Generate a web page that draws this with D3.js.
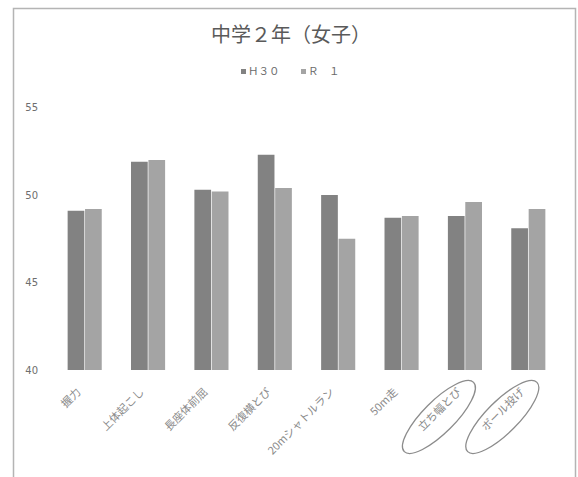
<!DOCTYPE html>
<html>
<head>
<meta charset="utf-8">
<script src="https://cdn.jsdelivr.net/npm/d3@7"></script>
<style>
  html, body { margin: 0; padding: 0; background: #fff; }
  svg { display: block; }
</style>
</head>
<body>
<svg id="chart" width="578" height="477"></svg>
<script>
// Test events
const categories = ["握力", "上体起こし", "長座体前屈", "反復横とび", "20mシャトルラン", "50m走", "立ち幅とび", "ボール投げ"];
// Mean T-scores per event
const seriesH30 = [49.1, 51.9, 50.3, 52.3, 50.0, 48.7, 48.8, 48.1];
const seriesR1  = [49.2, 52.0, 50.2, 50.4, 47.5, 48.8, 49.6, 49.2];
const seriesNames = ["Ｈ３０", "Ｒ　１"];
const yTicks = [40, 45, 50, 55];
// Events circled by hand on the sheet
const circled = ["立ち幅とび", "ボール投げ"];

const colors = ["#828282", "#a4a4a4"];
const fontJP = "'Noto Sans CJK JP', 'Noto Sans', sans-serif";

const svg = d3.select("#chart");

// Sheet frame
svg.append("path")
  .attr("d", "M13.5,477 L13.5,8.5 L575.5,8.5 L575.5,477")
  .attr("fill", "none")
  .attr("stroke", "#b4b4b4")
  .attr("stroke-width", 1.5);

// Title
svg.append("text")
  .attr("x", 291).attr("y", 42)
  .attr("text-anchor", "middle")
  .attr("font-family", fontJP)
  .attr("font-size", 20)
  .attr("fill", "#5a5a5a")
  .text("中学２年（女子）");

// Legend
const legendX = [241, 301];
seriesNames.forEach((name, i) => {
  const g = svg.append("g").attr("transform", `translate(${legendX[i]},75)`);
  g.append("rect").attr("x", 0).attr("y", -6).attr("width", 5).attr("height", 5).attr("fill", colors[i]);
  g.append("text")
    .attr("x", 7).attr("y", 0)
    .attr("font-family", fontJP)
    .attr("font-size", 10.5)
    .attr("fill", "#6a6a6a")
    .text(name);
});

// Scales
const x0 = d3.scaleBand().domain(categories).range([53, 560]).paddingInner(0.44).paddingOuter(0.22);
const x1 = d3.scaleBand().domain([0, 1]).range([0, x0.bandwidth()]).padding(0.04);
const y = d3.scaleLinear().domain([40, 55]).range([370, 107.5]);

// Y tick labels (no axis line)
const yAxis = d3.axisLeft(y).tickValues(yTicks).tickSize(0).tickPadding(0);
const yg = svg.append("g").attr("transform", "translate(38,0)").call(yAxis);
yg.select(".domain").remove();
yg.selectAll("text")
  .attr("font-family", "'DejaVu Sans', sans-serif")
  .attr("font-size", 10)
  .attr("fill", "#6e6e6e");

// Bars
const groups = svg.append("g").selectAll("g")
  .data(categories)
  .join("g")
  .attr("transform", d => `translate(${x0(d)},0)`);

groups.selectAll("rect")
  .data((d, i) => [seriesH30[i], seriesR1[i]])
  .join("rect")
  .attr("x", (d, j) => x1(j))
  .attr("y", d => y(d))
  .attr("width", x1.bandwidth())
  .attr("height", d => y(40) - y(d))
  .attr("fill", (d, j) => colors[j]);

// Category labels, rotated
const xAxis = d3.axisBottom(x0).tickSize(0).tickPadding(0);
const xg = svg.append("g").attr("transform", "translate(0,380)").call(xAxis);
xg.select(".domain").remove();
xg.selectAll("text")
  .attr("font-family", fontJP)
  .attr("font-size", 11)
  .attr("fill", "#8a8a8a")
  .attr("text-anchor", "end")
  .attr("dy", "0.35em")
  .attr("transform", "translate(-6,10) rotate(-45)");

// Hand-drawn circles around selected labels
circled.forEach(c => {
  const cx = x0(c) + x0.bandwidth() / 2 - 26;
  svg.append("ellipse")
    .attr("cx", 0).attr("cy", 0)
    .attr("rx", 49).attr("ry", 16)
    .attr("transform", `translate(${cx},417) rotate(-45)`)
    .attr("fill", "none")
    .attr("stroke", "#8c8c8c")
    .attr("stroke-width", 1.3);
});
</script>
</body>
</html>
